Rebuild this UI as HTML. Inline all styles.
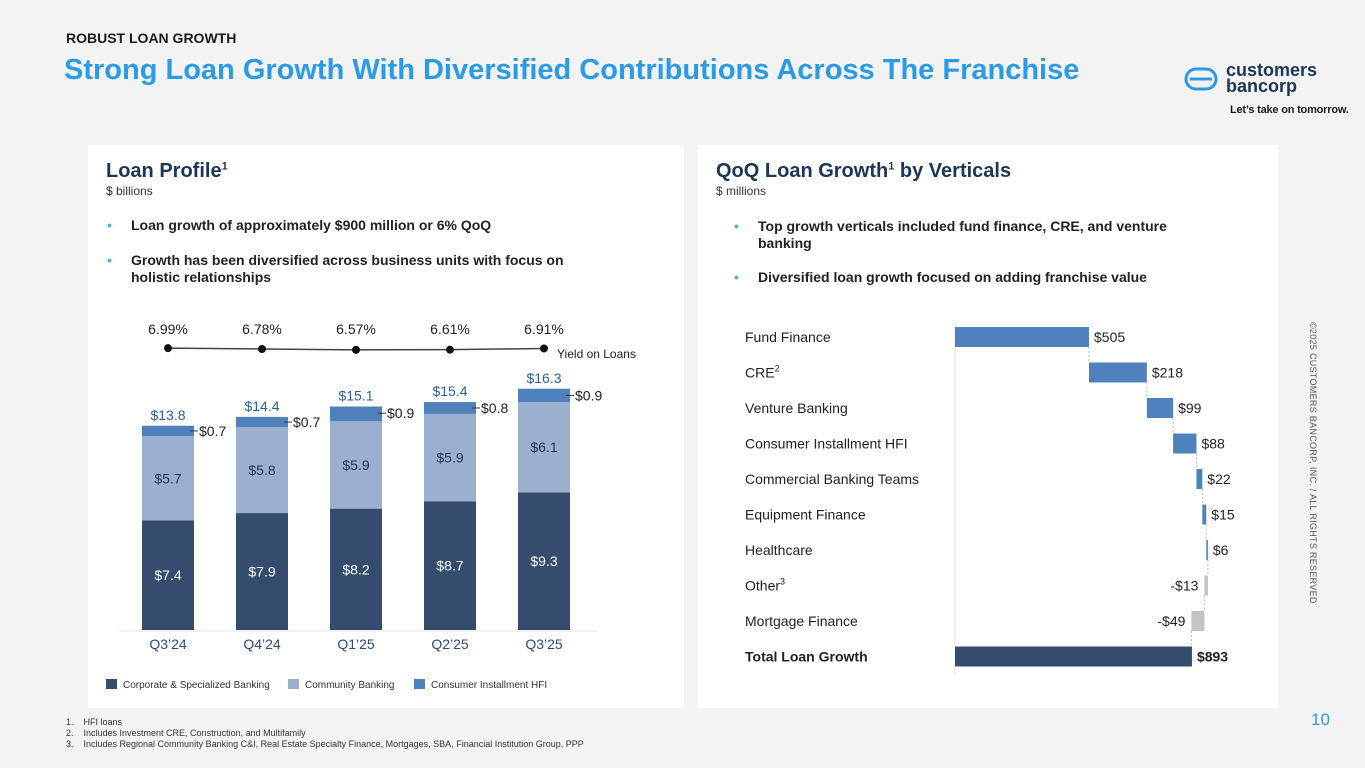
<!DOCTYPE html>
<html><head><meta charset="utf-8">
<style>
body{margin:0;width:1365px;height:768px;background:#f3f3f3;font-family:"Liberation Sans",sans-serif;position:relative;overflow:hidden;color:#1a1a1a}
.abs{position:absolute}
.panel{position:absolute;background:#fff}
.bul{position:absolute;font-size:14px;font-weight:bold;color:#222;line-height:17px}
.bul:before{content:"•";color:#4fb4d8;position:absolute;left:-24px}
</style></head><body>
<div class="abs" style="left:66px;top:30px;font-size:14px;font-weight:bold">ROBUST LOAN GROWTH</div>
<div class="abs" style="left:64px;top:54px;font-size:29px;font-weight:bold;color:#2b9be8">Strong Loan Growth With Diversified Contributions Across The Franchise</div>
<div class="abs" style="left:1184px;top:62px">
<svg width="34" height="26" style="position:absolute;left:0;top:4px"><rect x="2" y="3" width="30" height="20" rx="10" fill="none" stroke="#2b9be8" stroke-width="3"/><line x1="6" y1="13" x2="28" y2="13" stroke="#2b9be8" stroke-width="3"/></svg>
<div style="position:absolute;left:42px;top:0;font-size:18px;line-height:16px;color:#1d3557;font-weight:bold">customers<br>bancorp</div></div>
<div class="abs" style="left:1230px;top:104px;font-size:11px;font-weight:bold;width:96px;white-space:nowrap;letter-spacing:-0.2px">Let’s take on tomorrow.</div>
<div class="abs" style="left:1318px;top:322px;font-size:9px;color:#555;transform-origin:0 0;transform:rotate(90deg);white-space:nowrap;letter-spacing:0.3px">©2025 CUSTOMERS BANCORP, INC. / ALL RIGHTS RESERVED</div>

<div class="panel" style="left:88px;top:145px;width:596px;height:563px"></div>
<div class="panel" style="left:698px;top:145px;width:580px;height:563px"></div>

<div class="abs" style="left:106px;top:160px;font-size:20px;font-weight:bold;color:#1d3557">Loan Profile<sup style="font-size:11px">1</sup></div>
<div class="abs" style="left:106px;top:184px;font-size:12px;color:#333">$ billions</div>
<div class="bul" style="left:131px;top:217px">Loan growth of approximately $900 million or 6% QoQ</div>
<div class="bul" style="left:131px;top:252px;width:470px">Growth has been diversified across business units with focus on holistic relationships</div>

<div class="abs" style="left:716px;top:160px;font-size:20px;font-weight:bold;color:#1d3557">QoQ Loan Growth<sup style="font-size:11px">1</sup> by Verticals</div>
<div class="abs" style="left:716px;top:184px;font-size:12px;color:#333">$ millions</div>
<div class="bul" style="left:758px;top:218px;width:440px">Top growth verticals included fund finance, CRE, and venture banking</div>
<div class="bul" style="left:758px;top:269px">Diversified loan growth focused on adding franchise value</div>

<svg class="abs" id="left" style="left:0;top:0" width="700" height="768"></svg>
<svg class="abs" id="right" style="left:0;top:0" width="1365" height="768"></svg>

<div class="abs" style="left:66px;top:717px;font-size:9px;line-height:11px;color:#333">1.&nbsp;&nbsp;&nbsp;&nbsp;HFI loans<br>2.&nbsp;&nbsp;&nbsp;&nbsp;Includes Investment CRE, Construction, and Multifamily<br>3.&nbsp;&nbsp;&nbsp;&nbsp;Includes Regional Community Banking C&amp;I, Real Estate Specialty Finance, Mortgages, SBA, Financial Institution Group, PPP</div>
<div class="abs" style="left:1311px;top:710px;font-size:17px;color:#2b9be8">10</div>

<script>
const quarters=["Q3’24","Q4’24","Q1’25","Q2’25","Q3’25"];
const corporate=[7.4,7.9,8.2,8.7,9.3];
const community=[5.7,5.8,5.9,5.9,6.1];
const consumer=[0.7,0.7,0.9,0.8,0.9];
const totals=[13.8,14.4,15.1,15.4,16.3];
const yields=[6.99,6.78,6.57,6.61,6.91];

const verticals=["Fund Finance","CRE","Venture Banking","Consumer Installment HFI","Commercial Banking Teams","Equipment Finance","Healthcare","Other","Mortgage Finance","Total Loan Growth"];
const growth=[505,218,99,88,22,15,6,-13,-49,893];

const NS="http://www.w3.org/2000/svg";
function mk(svg,tag,attrs,text){const e=document.createElementNS(NS,tag);for(const k in attrs)e.setAttribute(k,attrs[k]);if(text!==undefined)e.textContent=text;svg.appendChild(e);return e;}

const L=document.getElementById('left');
const base=630,pxPer=14.8,bw=52;
const xC=i=>168+i*94;
const yV=v=>base-v*pxPer;
const yY=v=>349-(v-6.78)*4;
let e=mk(L,'line',{x1:118,y1:base+1,x2:598,y2:base+1,stroke:'#e6e6e6'});

const fs='font-family:"Liberation Sans",sans-serif';
quarters.forEach((q,i)=>{
  const x=xC(i)-bw/2;
  const h1=corporate[i]*pxPer,h2=community[i]*pxPer,h3=consumer[i]*pxPer;
  let r=mk(L,'rect',{x:x,y:base-h1,width:bw,height:h1,fill:'#364c6e'});
  
  r=mk(L,'rect',{x:x,y:base-h1-h2,width:bw,height:h2,fill:'#9bb0cf'});
  
  r=mk(L,'rect',{x:x,y:yV(totals[i]),width:bw,height:base-h1-h2-yV(totals[i]),fill:'#4f81bd'});
  
  let t=mk(L,'text',{x:xC(i),y:base-h1/2+5,'text-anchor':'middle',fill:'#fff','font-size':14,style:fs},'$'+corporate[i].toFixed(1));
  
  t=mk(L,'text',{x:xC(i),y:base-h1-h2/2+5,'text-anchor':'middle',fill:'#1d3557','font-size':14,style:fs},'$'+community[i].toFixed(1));
  
  const cy=yV(totals[i])+h3/2;
  mk(L,'line',{x1:x+bw-4,y1:cy,x2:x+bw+4,y2:cy,stroke:'#333'});
  t=mk(L,'text',{x:x+bw+5,y:cy+5,fill:'#222','font-size':14,style:fs},'$'+consumer[i].toFixed(1));
  
  t=mk(L,'text',{x:xC(i),y:yV(totals[i])-6,'text-anchor':'middle',fill:'#2e5f9e','font-size':14,style:fs},'$'+totals[i].toFixed(1));
  
  t=mk(L,'text',{x:xC(i),y:649,'text-anchor':'middle',fill:'#2e4a7a','font-size':14,style:fs},q);
  
  t=mk(L,'text',{x:xC(i),y:334,'text-anchor':'middle',fill:'#222','font-size':14,style:fs},yields[i].toFixed(2)+'%');
  
});
let pl=mk(L,'polyline',{points:yields.map((v,i)=>xC(i)+','+yY(v)).join(' '),fill:'none',stroke:'#444','stroke-width':1.5});

yields.forEach((v,i)=>{const c=mk(L,'circle',{cx:xC(i),cy:yY(v),r:4,fill:'#111'});
});
e=mk(L,'text',{x:557,y:358,fill:'#222','font-size':12,style:fs},'Yield on Loans');

[["#364c6e","Corporate & Specialized Banking",106],["#9bb0cf","Community Banking",288],["#4f81bd","Consumer Installment HFI",414]].forEach(l=>{
  const r=mk(L,'rect',{x:l[2],y:679,width:11,height:10,fill:l[0]});
  
  const t=mk(L,'text',{x:l[2]+17,y:688,fill:'#333','font-size':10,style:fs},l[1]);
  
});

const R=document.getElementById('right');
const x0=955,sc=134/505;
const xW=v=>x0+v*sc;
const rowY=i=>337+i*35.5;
e=mk(R,'line',{x1:x0,y1:322,x2:x0,y2:675,stroke:'#e3e3e3'});

let cum=0;
verticals.forEach((name,i)=>{
  const v=growth[i];const y=rowY(i);const last=i===verticals.length-1;
  let a,b,col;
  if(last){a=0;b=v;col='#364c6e';}else{a=cum;b=cum+v;cum=b;col=v<0?'#c3c3c3':'#4f81bd';}
  const xa=xW(Math.min(a,b)),xb=xW(Math.max(a,b));
  const r=mk(R,'rect',{x:xa,y:y-10,width:Math.max(xb-xa,1.5),height:20,fill:col});
  
  if(i<verticals.length-1){mk(R,'line',{x1:xW(b),y1:y+10,x2:xW(b),y2:y+25.5,stroke:'#bbb','stroke-dasharray':'2,2'});}
  const lbl=(v<0?'-$':'$')+Math.abs(v);
  const t=v<0?mk(R,'text',{x:xa-6,y:y+5,'text-anchor':'end',fill:'#222','font-size':14,style:fs},lbl)
             :mk(R,'text',{x:xb+5,y:y+5,fill:'#222','font-size':14,'font-weight':last?'bold':'normal',style:fs},lbl);
  
  const c=mk(R,'text',{x:745,y:y+5,fill:'#222','font-size':14,'font-weight':last?'bold':'normal',style:fs},name);
  
  if(name==="CRE"){mk(c,'tspan',{'font-size':9,dy:-6},'2');}
  if(name==="Other"){mk(c,'tspan',{'font-size':9,dy:-6},'3');}
});
</script>
</body></html>
